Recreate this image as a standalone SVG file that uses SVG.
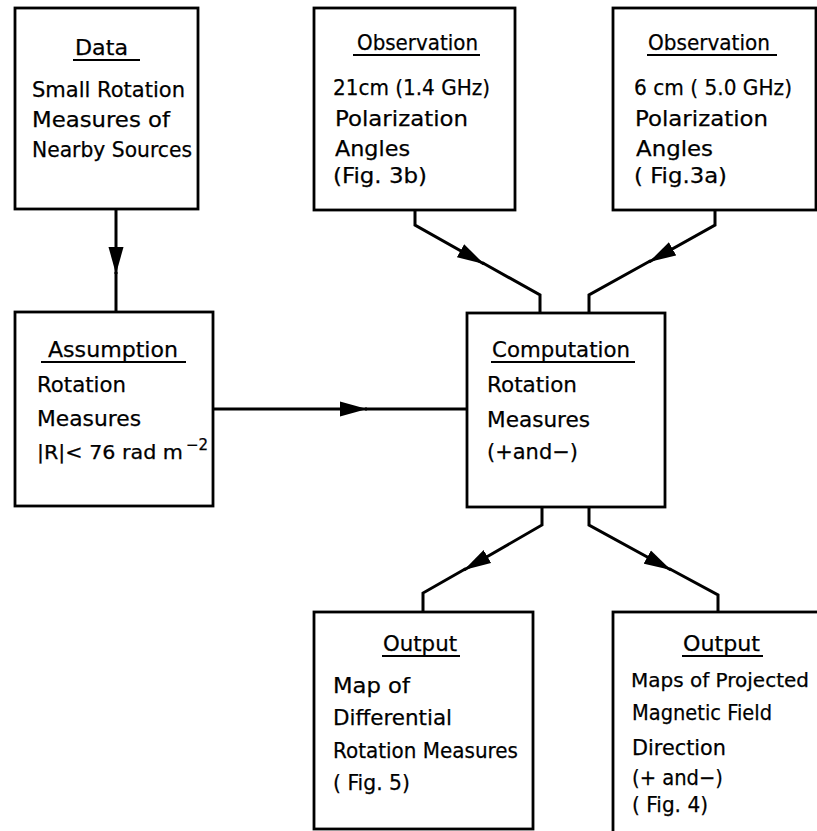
<svg xmlns="http://www.w3.org/2000/svg" width="817" height="831" viewBox="0 0 817 831">
<style>
.box{fill:#fff;stroke:#000;stroke-width:2.8}
.ul{stroke:#000;stroke-width:2}
.t{font-family:"DejaVu Sans","Liberation Sans",sans-serif;font-size:22px;fill:#000;stroke:#000;stroke-width:0.25}
.sup{font-size:15px}
.c{fill:none;stroke:#000;stroke-width:3;stroke-linejoin:miter}
</style>
<defs>
<marker id="ah" markerUnits="userSpaceOnUse" viewBox="0 0 27 16" refX="27" refY="8" markerWidth="27" markerHeight="16" orient="auto">
<path d="M0,0.5 L27,8 L0,15.5 Z" fill="#000"/>
</marker>
</defs>
<rect width="817" height="831" fill="#fff"/>

<g id="connectors">
<path class="c" d="M116,209 V274" marker-end="url(#ah)"/>
<path class="c" d="M116,272 V312"/>
<path class="c" d="M415,210 V225 L484,264" marker-end="url(#ah)"/>
<path class="c" d="M482,262.5 L540,295 V313"/>
<path class="c" d="M715,210 V225 L649,262" marker-end="url(#ah)"/>
<path class="c" d="M651,260.5 L589,295 V313"/>
<path class="c" d="M213,409 H367" marker-end="url(#ah)"/>
<path class="c" d="M365,409 H467"/>
<path class="c" d="M542,507 V525 L464,570" marker-end="url(#ah)"/>
<path class="c" d="M466,568.5 L423,593 V612"/>
<path class="c" d="M589,507 V525 L671,570" marker-end="url(#ah)"/>
<path class="c" d="M669,568.5 L718,595 V612"/>
</g>

<g id="data">
<rect class="box" x="15" y="8" width="183" height="201"/>
<text class="t" x="75" y="55" textLength="53" lengthAdjust="spacingAndGlyphs">Data</text>
<line class="ul" x1="73" y1="60" x2="140" y2="60"/>
<text class="t" x="32" y="97" textLength="153" lengthAdjust="spacingAndGlyphs">Small Rotation</text>
<text class="t" x="32" y="127" textLength="138" lengthAdjust="spacingAndGlyphs">Measures of</text>
<text class="t" x="32" y="157" textLength="160" lengthAdjust="spacingAndGlyphs">Nearby Sources</text>
</g>

<g id="obs21">
<rect class="box" x="314" y="8" width="201" height="202"/>
<text class="t" x="357" y="50" textLength="121" lengthAdjust="spacingAndGlyphs">Observation</text>
<line class="ul" x1="353" y1="55" x2="480" y2="55"/>
<text class="t" x="333" y="95" textLength="157" lengthAdjust="spacingAndGlyphs">21cm (1.4 GHz)</text>
<text class="t" x="335" y="126" textLength="133" lengthAdjust="spacingAndGlyphs">Polarization</text>
<text class="t" x="335" y="156" textLength="75" lengthAdjust="spacingAndGlyphs">Angles</text>
<text class="t" x="333" y="183" textLength="94" lengthAdjust="spacingAndGlyphs">(Fig. 3b)</text>
</g>

<g id="obs6">
<rect class="box" x="613" y="8" width="203" height="202"/>
<text class="t" x="648" y="50" textLength="122" lengthAdjust="spacingAndGlyphs">Observation</text>
<line class="ul" x1="647" y1="55" x2="777" y2="55"/>
<text class="t" x="634" y="95" textLength="158" lengthAdjust="spacingAndGlyphs">6 cm ( 5.0 GHz)</text>
<text class="t" x="635" y="126" textLength="133" lengthAdjust="spacingAndGlyphs">Polarization</text>
<text class="t" x="636" y="156" textLength="77" lengthAdjust="spacingAndGlyphs">Angles</text>
<text class="t" x="634" y="183" textLength="93" lengthAdjust="spacingAndGlyphs">( Fig.3a)</text>
</g>

<g id="assumption">
<rect class="box" x="15" y="312" width="198" height="194"/>
<text class="t" x="48" y="357" textLength="130" lengthAdjust="spacingAndGlyphs">Assumption</text>
<line class="ul" x1="41" y1="362" x2="186" y2="362"/>
<text class="t" x="37" y="392" textLength="89" lengthAdjust="spacingAndGlyphs">Rotation</text>
<text class="t" x="37" y="426" textLength="104" lengthAdjust="spacingAndGlyphs">Measures</text>
<text class="t" x="37" y="459" style="font-size:19.5px"><tspan textLength="146" lengthAdjust="spacingAndGlyphs">|R|&lt; 76 rad m</tspan><tspan class="sup" x="186" y="450">−2</tspan></text>
</g>

<g id="computation">
<rect class="box" x="467" y="313" width="198" height="194"/>
<text class="t" x="492" y="357" textLength="138" lengthAdjust="spacingAndGlyphs">Computation</text>
<line class="ul" x1="491" y1="362" x2="635" y2="362"/>
<text class="t" x="487" y="392" textLength="90" lengthAdjust="spacingAndGlyphs">Rotation</text>
<text class="t" x="487" y="427" textLength="103" lengthAdjust="spacingAndGlyphs">Measures</text>
<text class="t" x="487" y="459" textLength="91" lengthAdjust="spacingAndGlyphs">(+and−)</text>
</g>

<g id="output1">
<rect class="box" x="314" y="612" width="219" height="217"/>
<text class="t" x="383" y="651" textLength="74" lengthAdjust="spacingAndGlyphs">Output</text>
<line class="ul" x1="382" y1="656" x2="460" y2="656"/>
<text class="t" x="333" y="693" textLength="77" lengthAdjust="spacingAndGlyphs">Map of</text>
<text class="t" x="333" y="725" textLength="119" lengthAdjust="spacingAndGlyphs">Differential</text>
<text class="t" x="333" y="758" textLength="185" lengthAdjust="spacingAndGlyphs">Rotation Measures</text>
<text class="t" x="333" y="790" textLength="77" lengthAdjust="spacingAndGlyphs">( Fig. 5)</text>
</g>

<g id="output2">
<rect class="box" x="613" y="612" width="230" height="240"/>
<text class="t" x="683" y="651" textLength="77" lengthAdjust="spacingAndGlyphs">Output</text>
<line class="ul" x1="682" y1="656" x2="763" y2="656"/>
<text class="t" x="631" y="687" style="font-size:20px" textLength="178" lengthAdjust="spacingAndGlyphs">Maps of Projected</text>
<text class="t" x="632" y="720" textLength="140" lengthAdjust="spacingAndGlyphs">Magnetic Field</text>
<text class="t" x="632" y="755" textLength="94" lengthAdjust="spacingAndGlyphs">Direction</text>
<text class="t" x="632" y="785" textLength="91" lengthAdjust="spacingAndGlyphs">(+ and−)</text>
<text class="t" x="632" y="812" textLength="76" lengthAdjust="spacingAndGlyphs">( Fig. 4)</text>
</g>
</svg>
